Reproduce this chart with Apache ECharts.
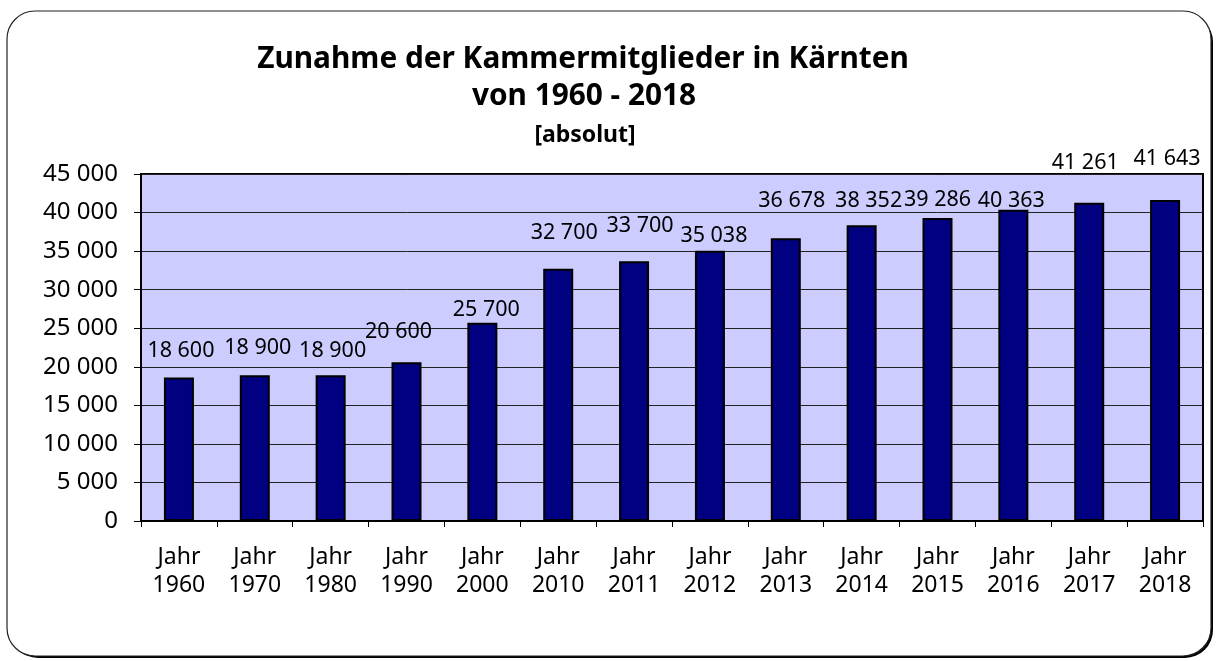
<!DOCTYPE html>
<html>
<head>
<meta charset="utf-8">
<script src="https://cdn.jsdelivr.net/npm/echarts@6/dist/echarts.min.js"></script>
<style>
  html, body { margin: 0; padding: 0; background: #fff; }
  #chart { width: 1217px; height: 661px; }
</style>
</head>
<body>
<div id="chart"></div>
<script>
// Daten
var years = ['1960', '1970', '1980', '1990', '2000', '2010', '2011', '2012', '2013', '2014', '2015', '2016', '2017', '2018'];
var members = [18600, 18900, 18900, 20600, 25700, 32700, 33700, 35038, 36678, 38352, 39286, 40363, 41261, 41643];
var yTicks = { min: 0, max: 45000, step: 5000 };

// Lage der Beschriftungen über den Balken (im Original unregelmäßig)
var labelLift = [16, 16, 13, 19, 2, 25, 24, 4, 26, 13, 7, -2, 29, 30];
var labelShift = [2, 3, 2, -8, 4, 6, 6, 4, 6, 7, 0, -2, -4, 2];

var FONT = 'Noto Sans';

function fmt(v) {
    // 41643 -> "41 643"
    return String(v).replace(/\B(?=(\d{3})+(?!\d))/g, ' ');
}

var barData = [];
for (var i = 0; i < members.length; i++) {
    barData.push({
        value: members[i],
        label: { distance: labelLift[i], offset: [labelShift[i], 0] }
    });
}

var myChart = echarts.init(document.getElementById('chart'));
myChart.setOption({
    animation: false,
    backgroundColor: '#fff',
    graphic: [
        {   // Schatten des Rahmens
            type: 'rect',
            z: -11,
            shape: { x: 10, y: 14, width: 1203, height: 644, r: 28 },
            style: { fill: '#000' }
        },
        {
            type: 'rect',
            z: -10,
            shape: { x: 7, y: 11, width: 1204, height: 645, r: 28 },
            style: { fill: '#fff', stroke: '#222', lineWidth: 1.2 }
        },
        {
            type: 'text', x: 583, y: 60,
            style: {
                text: 'Zunahme der Kammermitglieder in Kärnten',
                fontFamily: FONT, fontWeight: 'bold', fontSize: 29.8,
                fill: '#000', align: 'center', verticalAlign: 'middle'
            }
        },
        {
            type: 'text', x: 584, y: 97,
            style: {
                text: 'von 1960 - 2018',
                fontFamily: FONT, fontWeight: 'bold', fontSize: 29.8,
                fill: '#000', align: 'center', verticalAlign: 'middle'
            }
        },
        {
            type: 'text', x: 585, y: 135,
            style: {
                text: '[absolut]',
                fontFamily: FONT, fontWeight: 'bold', fontSize: 23,
                fill: '#000', align: 'center', verticalAlign: 'middle'
            }
        }
    ],
    grid: {
        left: 141, right: 14, top: 174, bottom: 140,
        show: true,
        backgroundColor: '#ccccff',
        borderColor: '#000',
        borderWidth: 2
    },
    xAxis: {
        type: 'category',
        data: years,
        axisLine: { show: true, lineStyle: { color: '#000', width: 2 } },
        axisTick: { show: true, length: 6, lineStyle: { color: '#000', width: 1 } },
        axisLabel: {
            margin: 22,
            color: '#000',
            fontFamily: FONT,
            fontSize: 23,
            lineHeight: 28,
            interval: 0,
            formatter: function (v) { return 'Jahr\n' + v; }
        },
        splitLine: { show: false }
    },
    yAxis: {
        type: 'value',
        min: yTicks.min,
        max: yTicks.max,
        interval: yTicks.step,
        axisLine: { show: true, lineStyle: { color: '#000', width: 2 } },
        axisTick: { show: true, length: 7, lineStyle: { color: '#000', width: 1 } },
        axisLabel: {
            margin: 23,
            color: '#000',
            fontFamily: FONT,
            fontSize: 24,
            formatter: function (v) { return fmt(v); }
        },
        splitLine: { show: true, lineStyle: { color: '#222', width: 1 } }
    },
    series: [{
        type: 'bar',
        data: barData,
        barWidth: 30,
        itemStyle: { color: '#000080', borderColor: '#000', borderWidth: 2 },
        label: {
            show: true,
            position: 'top',
            color: '#000',
            fontFamily: FONT,
            fontSize: 21.5,
            formatter: function (p) { return fmt(p.value); }
        }
    }]
});
</script>
</body>
</html>
